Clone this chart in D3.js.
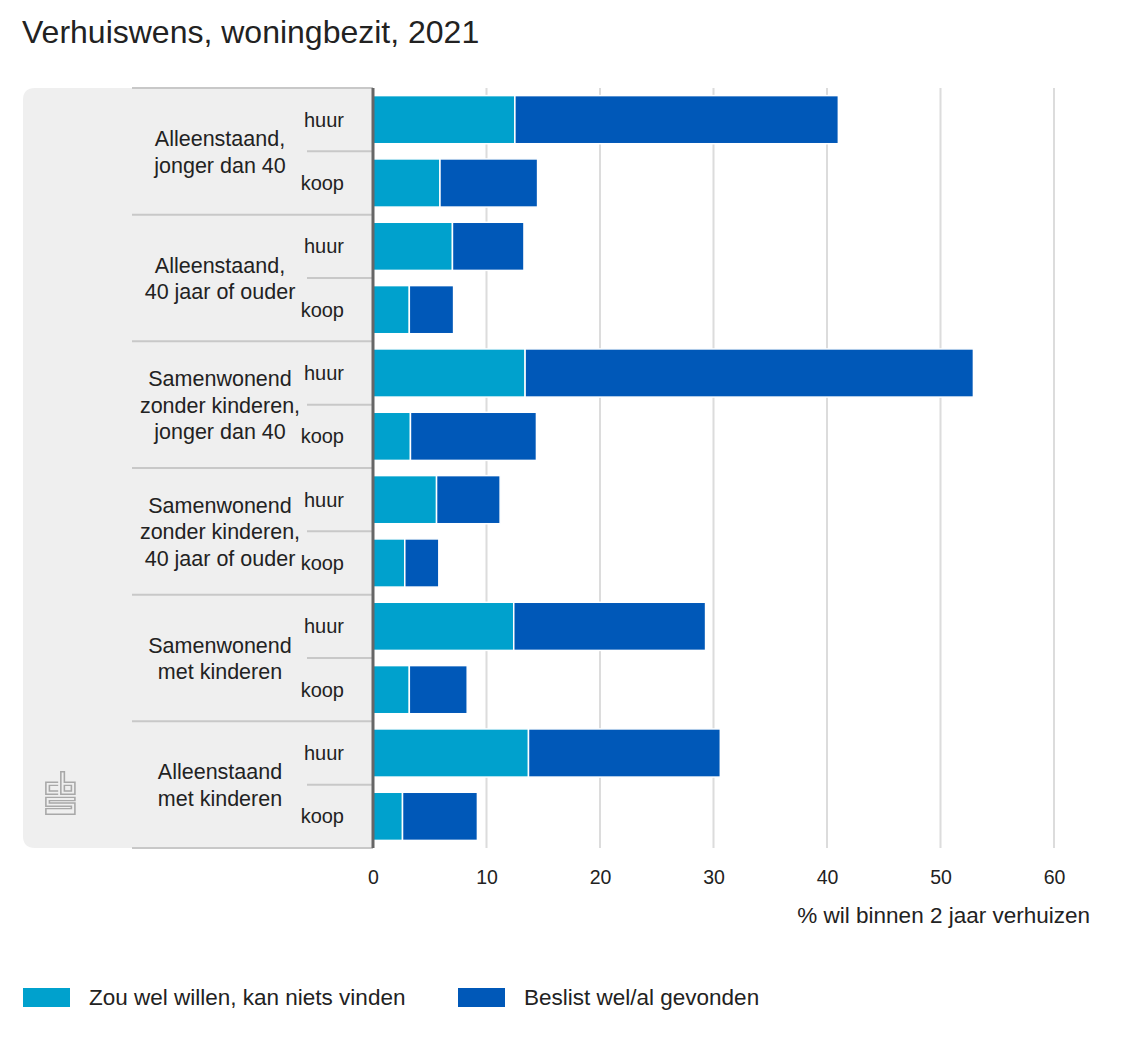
<!DOCTYPE html>
<html>
<head>
<meta charset="utf-8">
<script src="https://cdn.jsdelivr.net/npm/d3@7.9.0/dist/d3.min.js"></script>
<style>
  body { margin: 0; background: #fff; }
  svg { font-family: "Liberation Sans", Arial, sans-serif; }
</style>
</head>
<body>
<svg id="chart" width="1140" height="1045"></svg>
<script>
// data
let groups = [
  ['Alleenstaand,', 'jonger dan 40'],
  ['Alleenstaand,', '40 jaar of ouder'],
  ['Samenwonend', 'zonder kinderen,', 'jonger dan 40'],
  ['Samenwonend', 'zonder kinderen,', '40 jaar of ouder'],
  ['Samenwonend', 'met kinderen'],
  ['Alleenstaand', 'met kinderen']
];
let tenure = ['huur', 'koop'];
let zouWel = [12.5, 5.9, 7.0, 3.2, 13.4, 3.3, 5.6, 2.8, 12.4, 3.2, 13.7, 2.6];
let beslist = [28.5, 8.6, 6.3, 3.9, 39.5, 11.1, 5.6, 3.0, 16.9, 5.1, 16.9, 6.6];
let seriesNames = ['Zou wel willen, kan niets vinden', 'Beslist wel/al gevonden'];
let colors = ['#00a1cd', '#0058b8'];
let xTicks = [0, 10, 20, 30, 40, 50, 60];

let rows = [];
groups.forEach((g, gi) => {
  tenure.forEach((t, ti) => {
    let i = gi * 2 + ti;
    rows.push({ group: gi, tenure: t, a: zouWel[i], b: beslist[i] });
  });
});

let svg = d3.select('#chart');
let topY = 88, bottomY = 848, leftX = 373;

let x = d3.scaleLinear().domain([0, 60]).range([leftX, 1054]);
let yGroup = d3.scaleBand().domain(d3.range(groups.length)).range([topY, bottomY]);
let ySub = d3.scaleBand().domain(tenure).range([0, yGroup.bandwidth()])
  .paddingInner(0.24).paddingOuter(0.12);

// title
svg.append('text')
  .attr('x', 22).attr('y', 43)
  .attr('font-size', 32).attr('fill', '#222')
  .text('Verhuiswens, woningbezit, 2021');

// gray label panel with rounded left corners
let r = 12, px = 23, pw = leftX - 23;
svg.append('path')
  .attr('d', `M${px + r},${topY} H${px + pw} V${bottomY} H${px + r} Q${px},${bottomY} ${px},${bottomY - r} V${topY + r} Q${px},${topY} ${px + r},${topY} Z`)
  .attr('fill', '#efefef');

// gridlines
svg.append('g').selectAll('line')
  .data(xTicks.slice(1))
  .join('line')
  .attr('x1', d => x(d)).attr('x2', d => x(d))
  .attr('y1', topY).attr('y2', bottomY)
  .attr('stroke', '#dcdcdc').attr('stroke-width', 2);

// separators in label panel
let sep = svg.append('g').attr('stroke', '#c8c8c8').attr('stroke-width', 2);
sep.append('line').attr('x1', 132).attr('x2', leftX).attr('y1', topY).attr('y2', topY);
groups.forEach((g, gi) => {
  let y0 = yGroup(gi);
  sep.append('line').attr('x1', 132).attr('x2', leftX)
    .attr('y1', y0 + yGroup.bandwidth()).attr('y2', y0 + yGroup.bandwidth());
  sep.append('line').attr('x1', 307).attr('x2', leftX)
    .attr('y1', y0 + yGroup.bandwidth() / 2).attr('y2', y0 + yGroup.bandwidth() / 2);
});

// group labels
let lineH = 26.5;
groups.forEach((g, gi) => {
  let cy = yGroup(gi) + yGroup.bandwidth() / 2;
  let t = svg.append('text')
    .attr('text-anchor', 'middle')
    .attr('font-size', 21.5).attr('fill', '#222');
  g.forEach((line, li) => {
    t.append('tspan')
      .attr('x', 220)
      .attr('y', cy + (li - (g.length - 1) / 2) * lineH + 8)
      .text(line);
  });
});

// tenure labels
svg.append('g').selectAll('text')
  .data(rows)
  .join('text')
  .attr('x', 344)
  .attr('y', d => yGroup(d.group) + ySub(d.tenure) + ySub.bandwidth() / 2 + 7)
  .attr('text-anchor', 'end')
  .attr('font-size', 20).attr('fill', '#222')
  .text(d => d.tenure);

// stacked bars
let stacked = d3.stack().keys(['a', 'b'])(rows);
svg.append('g').selectAll('g')
  .data(stacked)
  .join('g')
  .attr('fill', (d, i) => colors[i])
  .selectAll('rect')
  .data(d => d)
  .join('rect')
  .attr('x', d => x(d[0]))
  .attr('width', d => x(d[1]) - x(d[0]))
  .attr('y', d => yGroup(d.data.group) + ySub(d.data.tenure))
  .attr('height', ySub.bandwidth())
  .attr('stroke', '#fff').attr('stroke-width', 1.5);

// axis line
svg.append('line')
  .attr('x1', leftX).attr('x2', leftX)
  .attr('y1', topY).attr('y2', bottomY)
  .attr('stroke', '#666').attr('stroke-width', 3);

// x axis
let xAxis = svg.append('g')
  .attr('transform', `translate(0,${bottomY})`)
  .call(d3.axisBottom(x).tickValues(xTicks).tickSize(0).tickPadding(22));
xAxis.select('.domain').remove();
xAxis.selectAll('text')
  .attr('font-size', 19.5).attr('fill', '#222')
  .attr('font-family', '"Liberation Sans", Arial, sans-serif');

svg.append('text')
  .attr('x', 1090).attr('y', 923)
  .attr('text-anchor', 'end')
  .attr('font-size', 22.5).attr('fill', '#222')
  .text('% wil binnen 2 jaar verhuizen');

// legend
let legendX = [23, 458];
seriesNames.forEach((name, i) => {
  let lg = svg.append('g').attr('transform', `translate(${legendX[i]},988)`);
  lg.append('rect').attr('width', 47).attr('height', 19).attr('fill', colors[i]);
  lg.append('text').attr('x', 66).attr('y', 17)
    .attr('font-size', 22.5).attr('fill', '#222').text(name);
});

// cbs logo (approximation)
let logo = svg.append('g')
  .attr('transform', 'translate(45,771) scale(0.88,0.8)')
  .attr('fill', 'none').attr('stroke', '#a8a8a8').attr('stroke-width', 1.8);
logo.append('path').attr('d', 'M15,14 H1 V29 H15 M15,18 H5 V25 H15');
logo.append('path').attr('d', 'M18,1 H22 V14 H34 V29 H18 Z M22,18 V25 H30 V18 Z');
logo.append('path').attr('d', 'M34,33 H1 V44 H30 V47 H1 V54 H34 V40 H5 V37 H34 Z');
</script>
</body>
</html>
